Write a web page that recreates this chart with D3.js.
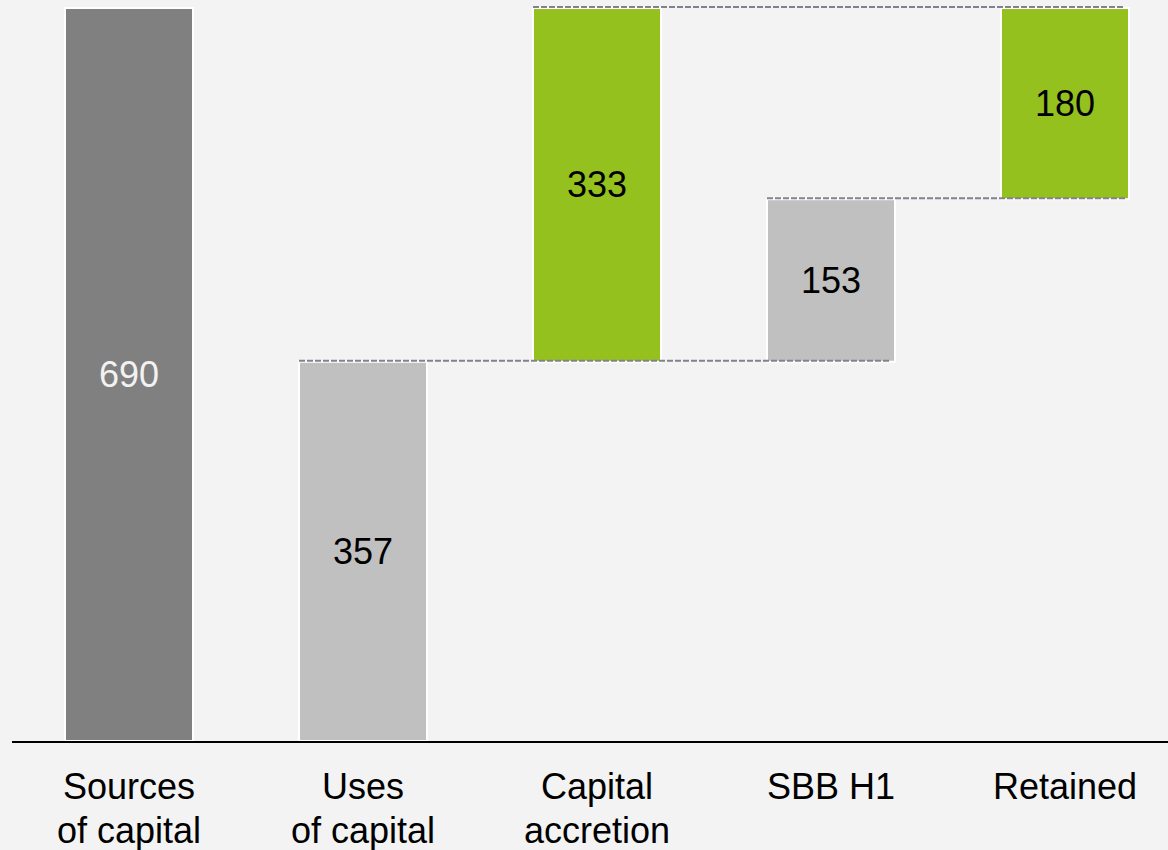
<!DOCTYPE html>
<meta charset="utf-8">
<style>
  body { margin: 0; background: #f3f3f3; }
  svg { display: block; font-family: "Liberation Sans", Arial, sans-serif; }
</style>
<svg width="1168" height="850"></svg>
<script src="https://cdn.jsdelivr.net/npm/d3@7"></script>
<script>

var svg = d3.select("svg");
var width = +svg.attr("width");
var height = +svg.attr("height");

// waterfall data
var categories = ["Sources of capital", "Uses of capital", "Capital accretion", "SBB H1", "Retained"];
var tickLabels = [["Sources", "of capital"], ["Uses", "of capital"], ["Capital", "accretion"], ["SBB H1"], ["Retained"]];
var values = [690, 357, 333, 153, 180];
var bases  = [0, 0, 357, 357, 510];
var kinds  = ["total", "use", "gain", "use", "gain"];

// dashed connectors: level, from bar, to bar
var connLevels = [357, 510, 690];
var connFrom   = [1, 3, 2];
var connTo     = [3, 4, 4];

var colors = { total: "#808080", use: "#c0c0c0", gain: "#95c11f" };
var labelColors = { total: "#f2f2f2", use: "#000", gain: "#000" };

var pad = 1 - 128 / 234;
var x = d3.scaleBand()
    .domain(categories)
    .range([12, 1182])
    .paddingInner(pad)
    .paddingOuter(pad / 2);

var y = d3.scaleLinear()
    .domain([0, 690])
    .range([741, 8]);

svg.append("rect")
    .attr("width", width)
    .attr("height", height)
    .attr("fill", "#f3f3f3");

var bars = categories.map(function(c, i) {
  return { cat: c, base: bases[i], top: bases[i] + values[i], value: values[i], kind: kinds[i] };
});

svg.append("g")
  .selectAll("rect")
  .data(bars)
  .enter().append("rect")
    .attr("x", function(d) { return x(d.cat); })
    .attr("y", function(d) { return y(d.top); })
    .attr("width", x.bandwidth())
    .attr("height", function(d) { return y(d.base) - y(d.top); })
    .attr("fill", function(d) { return colors[d.kind]; })
    .attr("stroke", "#fff")
    .attr("stroke-width", 2);

// connectors on top of bars
svg.append("g")
  .selectAll("line")
  .data(connLevels)
  .enter().append("line")
    .attr("x1", function(d, i) { return x(categories[connFrom[i]]); })
    .attr("x2", function(d, i) { return x(categories[connTo[i]]) + x.bandwidth() - 4; })
    .attr("y1", function(d) { return y(d) - 1; })
    .attr("y2", function(d) { return y(d) - 1; })
    .attr("stroke", "#82828f")
    .attr("stroke-width", 2)
    .attr("stroke-dasharray", "6,2");

svg.append("g")
  .selectAll("text")
  .data(bars)
  .enter().append("text")
    .attr("x", function(d) { return x(d.cat) + x.bandwidth() / 2; })
    .attr("y", function(d) { return (y(d.base) + y(d.top)) / 2; })
    .attr("dy", "0.35em")
    .attr("text-anchor", "middle")
    .attr("font-size", 36)
    .attr("fill", function(d) { return labelColors[d.kind]; })
    .text(function(d) { return d.value; });

// category axis
var axis = svg.append("g")
    .attr("transform", "translate(0," + y(0) + ")")
    .call(d3.axisBottom(x).tickSize(0));

axis.select(".domain").remove();
axis.selectAll("text")
    .attr("font-size", 36)
    .attr("font-family", "Liberation Sans, Arial, sans-serif")
    .attr("fill", "#000")
    .attr("dy", null)
    .attr("y", 0)
    .text(null)
    .each(function(d, i) {
      var t = d3.select(this);
      tickLabels[i].forEach(function(line, j) {
        t.append("tspan")
          .attr("x", 0)
          .attr("y", 58 + j * 44)
          .text(line);
      });
    });

svg.append("line")
    .attr("x1", 12)
    .attr("x2", width)
    .attr("y1", y(0) + 1)
    .attr("y2", y(0) + 1)
    .attr("stroke", "#000")
    .attr("stroke-width", 2);

</script>
